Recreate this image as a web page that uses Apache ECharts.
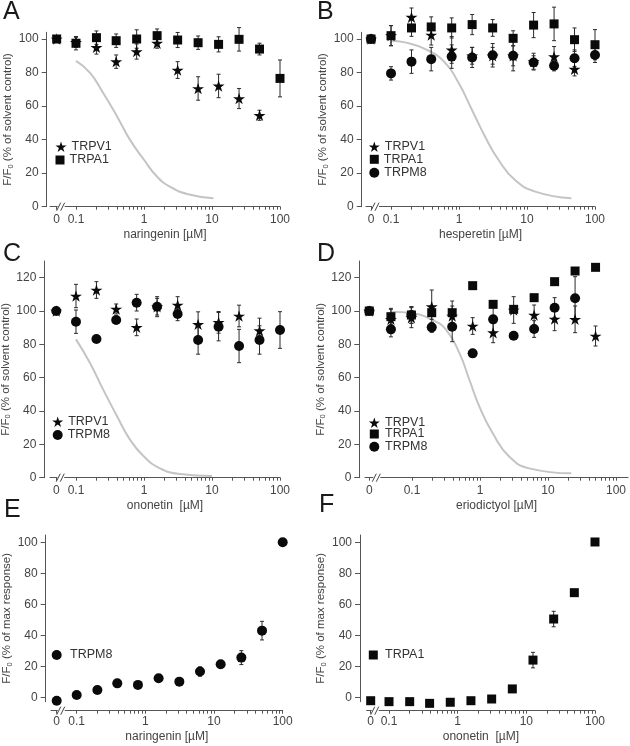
<!DOCTYPE html>
<html><head><meta charset="utf-8">
<script src="https://cdn.jsdelivr.net/npm/echarts@6/dist/echarts.min.js"></script>
<style>html,body{margin:0;padding:0;background:#fff}#c{width:630px;height:746px}</style>
</head><body><div id="c"></div>
<script>
// ---------- DATA ----------
const concStd = [0, 0.1, 0.2, 0.39, 0.78, 1.56, 3.125, 6.25, 12.5, 25, 50, 100];
const concD = [0, 0.049, 0.098, 0.195, 0.39, 0.78, 1.56, 3.125, 6.25, 12.5, 25, 50];
const xTickLabels = ['0', '0.1', '1', '10', '100'];

// A: naringenin
const A_TRPV1 = [100, 98, 95, 86.5, 92.5, 97.5, 81.5, 70.5, 72, 64.5, 54.5, null];
const A_TRPV1_err = [0, 3, 4, 4, 4.5, 3, 5, 7, 7, 6, 3, 0];
const A_TRPA1 = [100, 97.5, 100.8, 99, 100, 102, 99.4, 97.8, 96.8, 99.8, 94, 76.5];
const A_TRPA1_err = [0, 4, 4, 4, 5.5, 4, 4.5, 4, 4.5, 7, 3.5, 11];
const A_fitConc = [0.1, 0.16, 0.25, 0.4, 0.62, 1.0, 1.55, 2.4, 4.3, 10.5];
const A_fitVal = [87, 80, 68, 54, 40, 28, 18, 12, 7.6, 5];

// B: hesperetin
const B_TRPV1 = [100, 102, 113, 102.4, 93.5, 90, 90, 90, 86.5, 89.5, 82, null];
const B_TRPV1_err = [0, 6, 5.5, 6, 8, 5, 5, 6, 5, 6, 4, 0];
const B_TRPA1 = [100, 102, 106.6, 107.2, 106.6, 108.6, 106.6, 100.4, 108.3, 109, 99.6, 96.6];
const B_TRPA1_err = [0, 6, 5, 6, 6, 6, 5, 4.5, 7.5, 10, 7, 9];
const B_TRPM8 = [100, 79.5, 86.5, 88, 89.5, 89, 90.3, 90, 86, 84, 88.5, 90.5];
const B_TRPM8_err = [0, 4, 7, 7, 7, 6, 7, 9, 4, 3, 5, 4.5];
const B_fitConc = [0.1, 0.16, 0.32, 0.62, 0.98, 1.54, 2.4, 3.8, 6.6, 13.2, 45];
const B_fitVal = [99, 98, 94, 86, 74, 58, 42, 28, 16, 9, 5];

// C: ononetin
const C_TRPV1 = [100, 109, 112.6, 101.2, 90.2, 102.6, 103.6, 92, 93.2, 97, 88.2, null];
const C_TRPV1_err = [0, 7, 5, 3, 5, 5, 5, 7.5, 6.5, 6.5, 7.5, 0];
const C_TRPM8 = [100, 93.6, 83.2, 94.6, 105, 102.6, 98.2, 82.6, 90.6, 79, 82.6, 88.6];
const C_TRPM8_err = [0, 7, 0, 2, 5, 6, 4, 8.5, 8.5, 10, 8.5, 11];
const C_fitConc = [0.1, 0.16, 0.25, 0.4, 0.62, 0.98, 1.72, 3.4, 10];
const C_fitVal = [83, 69, 53, 37, 23, 13, 5.6, 2.2, 1];

// D: eriodictyol
const D_TRPV1 = [100, 95, 96, 102.6, 97, 91, 87, 100.6, 97.6, 95.2, 95, 85];
const D_TRPV1_err = [0, 6, 6, 10, 6, 5, 6, 8, 6, 7, 8, 6];
const D_TRPA1 = [100, 96.6, 97.6, 99, 99, 115.2, 104, 101, 108, 117.6, 124, 126.2];
const D_TRPA1_err = [0, 5, 5, 4, 7, 0, 0, 0, 0, 0, 0, 0];
const D_TRPM8 = [100, 89, 97.6, 90.2, 90.6, 74.6, 95, 85.2, 89.2, 102, 107.6, null];
const D_TRPM8_err = [0, 4.5, 5, 3, 9, 0, 9, 0, 5, 6, 13, 0];
const D_fitConc = [0.05, 0.1, 0.2, 0.32, 0.5, 0.7, 0.98, 1.54, 2.7, 5.3, 22];
const D_fitVal = [99.5, 98.6, 94.6, 88.6, 74.6, 58.6, 42.6, 26.6, 12.6, 5.6, 2.6];

// E: naringenin on TRPM8 (% of max response)
const E_TRPM8 = [-2.2, 1.5, 4.7, 9, 8, 12.3, 10.1, 16.6, 21.3, 25.6, 43, 100];
const E_TRPM8_err = [0, 0, 0, 0, 0, 0, 0, 3, 2.5, 4.5, 6, 0];

// F: ononetin on TRPA1 (% of max response)
const F_TRPA1 = [-2.2, -2.8, -2.8, -3.9, -3.2, -2.2, -1.1, 5.4, 24, 50.5, 67.5, 100.2];
const F_TRPA1_err = [0, 0, 0, 0, 0, 0, 0, 0, 5, 5, 0, 0];

// ---------- LAYOUT ----------
const FONT = '"Liberation Sans", Arial, sans-serif';
const STAR = 'path://M50,2 L61.2,36.6 L97.6,36.6 L68.2,58 L79.4,92.6 L50,71.2 L20.6,92.6 L31.8,58 L2.4,36.6 L38.8,36.6 Z';
const SYM = {
  TRPV1: {symbol: STAR, size: 12},
  TRPA1: {symbol: 'rect', size: 9},
  TRPM8: {symbol: 'circle', size: 10}
};
const layout = [
  {g:{left:50, top:32.3, width:230, height:174.4}, xmin:-1.382, xmax:2, ymin:0, ymax:104, yt:[0,20,40,60,80,100], t0:-1.284, brk:5, yOff:3.3, xOff:0, lm:7, ng:22, yng:28, xName:'naringenin [µM]', yName:'solvent control', letter:'A', lx:3, ly:0},
  {g:{left:366, top:32.3, width:229, height:174.4}, xmin:-1.368, xmax:2, ymin:0, ymax:104, yt:[0,20,40,60,80,100], t0:-1.294, brk:5, yOff:4.3, xOff:0, lm:7, ng:22, yng:28, xName:'hesperetin [µM]', yName:'solvent control', letter:'B', lx:317, ly:0},
  {g:{left:50, top:261, width:230, height:216.7}, xmin:-1.382, xmax:2, ymin:0, ymax:130, yt:[0,20,40,60,80,100,120], t0:-1.29, brk:5, yOff:5.7, xOff:0, lm:7, ng:22, yng:26, xName:'ononetin  [µM]', yName:'solvent control', letter:'C', lx:3, ly:242},
  {g:{left:365, top:261, width:263, height:216.7}, xmin:-1.691, xmax:2.176, ymin:0, ymax:130, yt:[0,20,40,60,80,100,120], t0:-1.628, brk:8, yOff:5.7, xOff:0, lm:7, ng:22, yng:26, xName:'eriodictyol [µM]', yName:'solvent control', letter:'D', lx:317, ly:242},
  {g:{left:51, top:535, width:231.7, height:166.7}, xmin:-1.374, xmax:2, ymin:-2.84, ymax:104.7, yt:[0,20,40,60,80,100], t0:-1.291, brk:5, yOff:5.3, xOff:9, lm:5, ng:20, yng:27, xName:'naringenin [µM]', yName:'max response', letter:'E', lx:4, ly:498},
  {g:{left:366.7, top:535, width:228.3, height:166.7}, xmin:-1.325, xmax:2, ymin:-2.84, ymax:104.7, yt:[0,20,40,60,80,100], t0:-1.267, brk:5, yOff:6.7, xOff:9, lm:5, ng:20, yng:27, xName:'ononetin  [µM]', yName:'max response', letter:'F', lx:319, ly:493}
];
const panelSeries = [
  [{n:'TRPA1', c:concStd, v:A_TRPA1, e:A_TRPA1_err}, {n:'TRPV1', c:concStd, v:A_TRPV1, e:A_TRPV1_err}],
  [{n:'TRPA1', c:concStd, v:B_TRPA1, e:B_TRPA1_err}, {n:'TRPM8', c:concStd, v:B_TRPM8, e:B_TRPM8_err}, {n:'TRPV1', c:concStd, v:B_TRPV1, e:B_TRPV1_err}],
  [{n:'TRPM8', c:concStd, v:C_TRPM8, e:C_TRPM8_err}, {n:'TRPV1', c:concStd, v:C_TRPV1, e:C_TRPV1_err}],
  [{n:'TRPA1', c:concD, v:D_TRPA1, e:D_TRPA1_err}, {n:'TRPM8', c:concD, v:D_TRPM8, e:D_TRPM8_err}, {n:'TRPV1', c:concD, v:D_TRPV1, e:D_TRPV1_err}],
  [{n:'TRPM8', c:concStd, v:E_TRPM8, e:E_TRPM8_err}],
  [{n:'TRPA1', c:concStd, v:F_TRPA1, e:F_TRPA1_err}]
];
const fits = [[A_fitConc, A_fitVal], [B_fitConc, B_fitVal], [C_fitConc, C_fitVal], [D_fitConc, D_fitVal], null, null];
const legendSpecs = [
  {n:'TRPV1', cx:61, cy:146.7, tx:69}, {n:'TRPA1', cx:60, cy:160, tx:69},
  {n:'TRPV1', cx:374.3, cy:146.7, tx:382.7}, {n:'TRPA1', cx:374.3, cy:159.3, tx:382.7}, {n:'TRPM8', cx:374.3, cy:172.7, tx:382.7},
  {n:'TRPV1', cx:57.7, cy:421.7, tx:65}, {n:'TRPM8', cx:57.7, cy:435, tx:65},
  {n:'TRPV1', cx:374.3, cy:422.7, tx:385}, {n:'TRPA1', cx:374.3, cy:434, tx:385}, {n:'TRPM8', cx:374.3, cy:446.7, tx:385},
  {n:'TRPM8', cx:56.7, cy:655, tx:70},
  {n:'TRPA1', cx:373.3, cy:655, tx:385}
];

// ---------- BUILD ----------
const tickConc = [];
[0.1, 1, 10].forEach(d => { for (let k = 1; k < 10; k++) tickConc.push(k * d); });
tickConc.push(100);
function tx(c, t0) { return c === 0 ? t0 : Math.log10(c); }
function majorLabel(v) {
  if (v < -1.1) return xTickLabels[0];
  return xTickLabels[Math.round(v) + 2];
}
const AXC = '#555', TXC = '#444';

const grids = [], xAxes = [], yAxes = [], series = [], graphics = [], legends = [];
layout.forEach((L, i) => {
  grids.push(Object.assign({containLabel:false, outerBoundsMode:'none'}, L.g));
  const majors = [L.t0, -1, 0, 1, 2];
  const ticks = [L.t0].concat(tickConc.map(c => Math.log10(c)));
  xAxes.push({
    type:'value', gridIndex:i, min:L.xmin, max:L.xmax, position:'bottom', offset:L.xOff,
    axisLine:{show:true, onZero:false, lineStyle:{color:AXC, width:1}},
    axisTick:{show:true, customValues:ticks, length:3, lineStyle:{color:AXC}},
    axisLabel:{show:true, customValues:majors, formatter:majorLabel, margin:L.lm, color:TXC, fontSize:12, fontFamily:FONT, hideOverlap:false},
    splitLine:{show:false},
    name:L.xName, nameLocation:'middle', nameGap:L.ng,
    nameTextStyle:{color:TXC, fontSize:12, fontFamily:FONT}
  });
  yAxes.push({
    type:'value', gridIndex:i, min:L.ymin, max:L.ymax, position:'left', offset:L.yOff,
    axisLine:{show:true, onZero:false, lineStyle:{color:AXC, width:1}},
    axisTick:{show:true, customValues:L.yt, length:5, lineStyle:{color:AXC}},
    axisLabel:{show:true, customValues:L.yt, margin:8, color:TXC, fontSize:12, fontFamily:FONT},
    splitLine:{show:false},
    name:'{a|F/F}{b|0}{a| (% of ' + L.yName + ')}', nameLocation:'middle', nameGap:L.yng,
    nameTextStyle:{color:TXC, fontFamily:FONT, rich:{
      a:{fontSize:11.5, color:TXC, fontFamily:FONT, lineHeight:14},
      b:{fontSize:7.5, color:TXC, fontFamily:FONT, lineHeight:14, verticalAlign:'bottom', padding:[4,0,0,0]}
    }}
  });
  // fitted reference curve
  if (fits[i]) {
    series.push({
      type:'line', xAxisIndex:i, yAxisIndex:i, smooth:0.5, symbol:'none', clip:false, z:1, silent:true,
      lineStyle:{color:'#c4c4c4', width:2},
      data:fits[i][0].map((c, k) => [Math.log10(c), fits[i][1][k]])
    });
  }
  // error bars
  panelSeries[i].forEach(s => {
    const d = [];
    s.c.forEach((c, k) => { if (s.v[k] != null && s.e[k] > 0) d.push([tx(c, L.t0), s.v[k] - s.e[k], s.v[k] + s.e[k]]); });
    series.push({
      type:'custom', xAxisIndex:i, yAxisIndex:i, clip:false, z:2, silent:true,
      encode:{x:0, y:[1, 2]}, data:d,
      renderItem:function(params, api) {
        const a = api.coord([api.value(0), api.value(1)]);
        const b = api.coord([api.value(0), api.value(2)]);
        const st = {stroke:'#2a2a2a', lineWidth:1};
        return {type:'group', children:[
          {type:'line', shape:{x1:a[0], y1:a[1], x2:b[0], y2:b[1]}, style:st},
          {type:'line', shape:{x1:a[0]-2, y1:a[1], x2:a[0]+2, y2:a[1]}, style:st},
          {type:'line', shape:{x1:b[0]-2, y1:b[1], x2:b[0]+2, y2:b[1]}, style:st}
        ]};
      }
    });
  });
  // markers
  panelSeries[i].forEach(s => {
    const d = [];
    s.c.forEach((c, k) => { if (s.v[k] != null) d.push([tx(c, L.t0), s.v[k]]); });
    series.push({
      type:'scatter', name:s.n, xAxisIndex:i, yAxisIndex:i, clip:false, z:3, silent:true,
      symbol:SYM[s.n].symbol, symbolSize:SYM[s.n].size, symbolKeepAspect:true,
      itemStyle:{color:'#0a0a0a', opacity:1}, data:d
    });
  });
  // axis break marks
  const off = L.xOff;
  series.push({
    type:'custom', xAxisIndex:i, yAxisIndex:i, clip:false, z:5, silent:true,
    data:[[L.t0 + L.brk / 68, L.ymin]],
    renderItem:function(params, api) {
      const p = api.coord([api.value(0), api.value(1)]);
      const x = p[0], y = p[1] + off;
      const st = {stroke:'#444', lineWidth:1};
      return {type:'group', children:[
        {type:'rect', shape:{x:x-4, y:y-1.5, width:7, height:3}, style:{fill:'#fff'}},
        {type:'line', shape:{x1:x-5, y1:y+4, x2:x-1, y2:y-4}, style:st},
        {type:'line', shape:{x1:x-1, y1:y+4, x2:x+3, y2:y-4}, style:st}
      ]};
    }
  });
  graphics.push({type:'text', left:L.lx, top:L.ly, style:{text:L.letter, font:'25px ' + FONT, fill:'#1a1a1a'}});
});

legendSpecs.forEach(l => {
  const sy = SYM[l.n];
  const w = l.n === 'TRPV1' ? 11 : sy.size;
  const pad = Math.max(0, l.tx - (l.cx + w / 2 + 5));
  legends.push({
    show:true, selectedMode:false, orient:'vertical', padding:0,
    left:l.cx - w / 2, top:l.cy - 7, itemWidth:w, itemHeight:w,
    data:[{name:l.n, icon:sy.symbol}],
    textStyle:{color:'#333', fontSize:12.5, fontFamily:FONT, lineHeight:14, padding:[0, 0, 0, pad]}
  });
});

const chart = echarts.init(document.getElementById('c'), null, {renderer:'canvas'});
chart.setOption({
  animation:false,
  backgroundColor:'#fff',
  textStyle:{fontFamily:FONT},
  grid:grids, xAxis:xAxes, yAxis:yAxes, series:series, legend:legends, graphic:graphics
});
</script>
</body></html>
